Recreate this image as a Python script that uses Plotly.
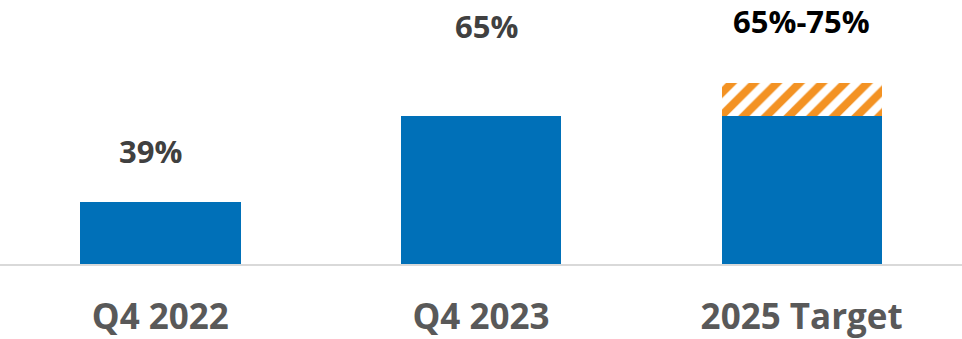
import plotly.graph_objects as go

categories = ["Q4 2022", "Q4 2023", "2025 Target"]
actual_values = [39, 65, 65]
target_extra = [0, 0, 10]
value_labels = ["39%", "65%", "65%-75%"]
label_colors = ["#404040", "#404040", "#000000"]
label_shifts = [51, 90, 62]
label_xshifts = [-10, 5, 0]

fig = go.Figure()
fig.add_trace(go.Bar(
    x=categories, y=actual_values,
    marker=dict(color="#0070B8", line=dict(width=0)),
    hoverinfo="skip",
))
fig.add_trace(go.Bar(
    x=categories, y=target_extra,
    marker=dict(
        color="white",
        line=dict(width=0),
        pattern=dict(shape="/", fgcolor="#F39223", bgcolor="white", fgopacity=1,
                     size=16, solidity=0.5, fillmode="replace"),
    ),
    hoverinfo="skip",
))

tops = [a + b for a, b in zip(actual_values, target_extra)]
for cat, top, txt, col, ys, xs in zip(categories, tops, value_labels, label_colors, label_shifts, label_xshifts):
    fig.add_annotation(
        x=cat, y=top, xref="x", yref="y", text=txt, showarrow=False,
        yshift=ys, xshift=xs, yanchor="middle",
        font=dict(family="Open Sans", size=31, color=col, weight="bold"),
    )

fig.update_layout(
    width=962, height=339,
    margin=dict(l=0, r=0, t=0, b=75),
    barmode="stack", bargap=0.5,
    showlegend=False,
    plot_bgcolor="white", paper_bgcolor="white",
    xaxis=dict(
        automargin=False,
        showline=True, linecolor="#D9D9D9", linewidth=2,
        showgrid=False, ticks="",
        ticklabelstandoff=21,
        tickfont=dict(family="Open Sans", size=35, color="#595959", weight="bold"),
    ),
    yaxis=dict(range=[20.5, 99.85], visible=False, showgrid=False, zeroline=False,
               automargin=False),
)

fig.write_html("out.html")
